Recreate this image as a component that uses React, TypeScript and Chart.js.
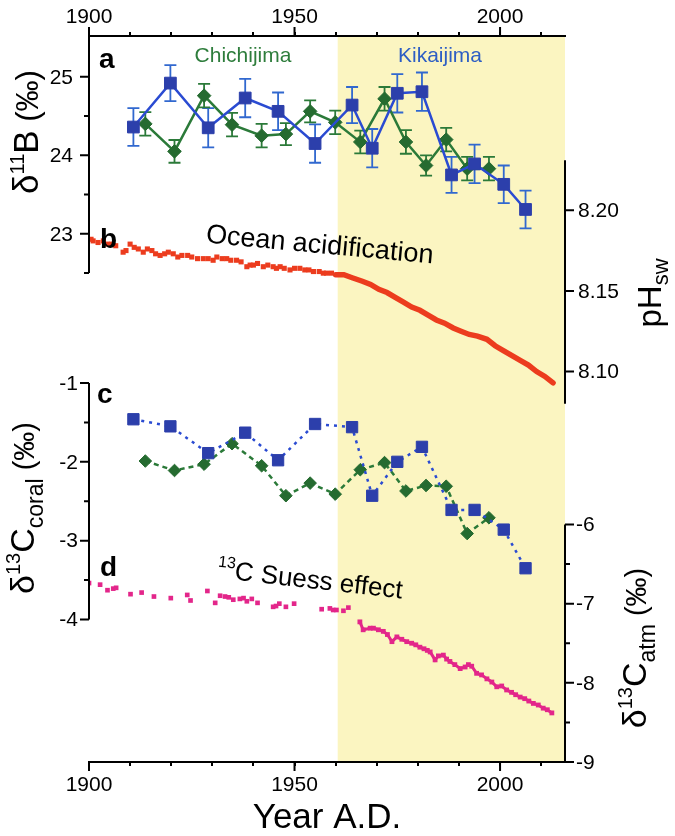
import React, { useEffect, useRef } from "react";
import { Chart, registerables } from "chart.js";

Chart.register(...registerables);

const FONT = "'Liberation Sans', Arial, sans-serif";

// ---------- x axis ----------
const yearMin = 1900;
const yearMax = 2015.8;
const shadeStartYear = 1960.5;
const decadeTicks = [1900, 1910, 1920, 1930, 1940, 1950, 1960, 1970, 1980, 1990, 2000, 2010];
const labelledYears = [1900, 1950, 2000];

// ---------- Kikaijima (blue squares) ----------
const kikaiYears = [1910.8, 1919.8, 1929.0, 1938.0, 1946.0, 1955.0, 1964.0, 1968.9, 1975.0, 1981.0, 1988.2, 1993.8, 2000.9, 2006.2];
const kikaiD11B = [24.36, 24.92, 24.35, 24.73, 24.56, 24.15, 24.64, 24.09, 24.79, 24.81, 23.75, 23.89, 23.63, 23.31];
const kikaiD11BErr = [0.24, 0.23, 0.25, 0.245, 0.24, 0.245, 0.23, 0.245, 0.245, 0.245, 0.23, 0.245, 0.24, 0.24];
const kikaiD13C = [-1.46, -1.55, -1.89, -1.63, -1.98, -1.52, -1.56, -2.43, -2.0, -1.81, -2.61, -2.61, -2.86, -3.35];

// ---------- Chichijima (green diamonds) ----------
const chichiYears = [1913.7, 1920.8, 1928.0, 1934.8, 1942.0, 1947.9, 1953.8, 1959.9, 1966.0, 1971.9, 1977.1, 1982.0, 1986.9, 1992.0, 1997.3];
const chichiD11B = [24.4, 24.05, 24.76, 24.39, 24.25, 24.27, 24.56, 24.42, 24.17, 24.72, 24.17, 23.87, 24.2, 23.83, 23.83];
const chichiD11BErr = [0.15, 0.145, 0.15, 0.15, 0.15, 0.14, 0.14, 0.15, 0.145, 0.15, 0.15, 0.13, 0.15, 0.15, 0.15];
const chichiD13C = [-1.99, -2.11, -2.03, -1.77, -2.05, -2.43, -2.27, -2.41, -2.1, -2.01, -2.37, -2.3, -2.31, -2.91, -2.71];

// ---------- Ocean acidification (pH sw) ----------
const phEarlyYears = [1900.5, 1901.0, 1902.2, 1903.5, 1904.4, 1905.5, 1906.5, 1908.3, 1909.0, 1910.0, 1911.0, 1912.0, 1913.2, 1914.2, 1915.3, 1916.2, 1917.3, 1918.4, 1919.3, 1920.5, 1921.6, 1922.6, 1924.0, 1925.0, 1926.4, 1927.8, 1929.0, 1930.2, 1931.1, 1932.4, 1933.5, 1934.5, 1935.9, 1937.0, 1938.4, 1939.2, 1940.0, 1941.0, 1942.4, 1943.5, 1944.8, 1945.6, 1946.5, 1947.5, 1948.9, 1950.0, 1951.3, 1952.5, 1953.5, 1954.6, 1956.0, 1957.0, 1957.8, 1959.0];
const phEarly = [8.182, 8.181, 8.180, 8.181, 8.179, 8.179, 8.178, 8.174, 8.175, 8.179, 8.177, 8.176, 8.174, 8.176, 8.175, 8.173, 8.172, 8.173, 8.174, 8.173, 8.171, 8.172, 8.172, 8.171, 8.170, 8.17, 8.17, 8.169, 8.171, 8.170, 8.17, 8.169, 8.169, 8.168, 8.165, 8.166, 8.166, 8.167, 8.165, 8.166, 8.165, 8.164, 8.165, 8.164, 8.163, 8.164, 8.164, 8.163, 8.163, 8.162, 8.162, 8.161, 8.161, 8.161];
const phLateYears = [1960.0, 1962.0, 1964.2, 1966.5, 1968.5, 1970.5, 1972.5, 1974.5, 1976.5, 1978.5, 1980.5, 1982.5, 1984.5, 1986.5, 1988.6, 1990.5, 1992.5, 1994.5, 1996.8, 1998.8, 2000.8, 2002.8, 2004.9, 2006.9, 2008.9, 2010.9, 2012.9];
const phLate = [8.16, 8.16, 8.158, 8.156, 8.154, 8.151, 8.149, 8.146, 8.143, 8.14, 8.138, 8.135, 8.132, 8.13, 8.127, 8.125, 8.123, 8.122, 8.12, 8.116, 8.113, 8.11, 8.107, 8.104, 8.1, 8.097, 8.093];

// ---------- 13C Suess effect (atmospheric d13C) ----------
const atmEarlyYears = [1900.0, 1902.7, 1904.5, 1905.9, 1906.6, 1910.1, 1912.8, 1915.8, 1919.9, 1923.9, 1924.7, 1928.8, 1930.7, 1931.9, 1933.1, 1934.0, 1935.1, 1936.7, 1937.6, 1938.4, 1939.6, 1941.0, 1944.8, 1945.5, 1946.3, 1947.9, 1949.9, 1956.6, 1958.6, 1959.4, 1960.2, 1961.9, 1963.1];
const atmEarly = [-6.74, -6.76, -6.83, -6.81, -6.8, -6.88, -6.86, -6.91, -6.93, -6.89, -6.96, -6.84, -6.99, -6.9, -6.91, -6.92, -6.95, -6.94, -6.93, -6.97, -6.94, -6.99, -7.04, -7.03, -7.0, -7.04, -7.0, -7.07, -7.06, -7.08, -7.08, -7.09, -7.05];
const atmLateYears = [1965.9, 1966.7, 1968.4, 1969.2, 1970.4, 1971.6, 1972.6, 1973.7, 1974.9, 1976.1, 1977.3, 1978.5, 1979.5, 1980.5, 1981.5, 1982.3, 1983.0, 1984.2, 1985.0, 1986.2, 1987.0, 1987.8, 1989.0, 1990.3, 1991.5, 1992.3, 1993.1, 1994.3, 1995.5, 1996.8, 1998.0, 1999.2, 2000.4, 2001.6, 2002.8, 2003.8, 2004.9, 2006.0, 2007.0, 2008.1, 2009.3, 2010.5, 2011.5, 2012.6];
const atmLate = [-7.23, -7.33, -7.31, -7.31, -7.33, -7.35, -7.39, -7.48, -7.42, -7.45, -7.48, -7.5, -7.52, -7.55, -7.57, -7.59, -7.61, -7.71, -7.66, -7.65, -7.7, -7.73, -7.77, -7.82, -7.8, -7.77, -7.79, -7.88, -7.9, -7.95, -7.99, -8.05, -8.04, -8.09, -8.12, -8.15, -8.18, -8.2, -8.23, -8.26, -8.28, -8.32, -8.34, -8.38];

// ---------- y axes: ranges, ticks, labels ----------
const d11bScaleRange = [16.27, 25.52];
const d11bAxisSpan = [22.5, 25.52];
const d11bMajor = [23, 24, 25];
const d11bMinor = [22.5, 23.5, 24.5];
const d11bLabels = ["23", "24", "25"];

const phScaleRange = [7.858, 8.308];
const phAxisSpan = [8.08, 8.231];
const phMajor = [8.1, 8.15, 8.2];
const phLabels = ["8.10", "8.15", "8.20"];

const coralScaleRange = [-5.808, 3.402];
const coralAxisSpan = [-4, -1];
const coralMajor = [-1, -2, -3, -4];
const coralMinor = [-1.5, -2.5, -3.5];
const coralLabels = ["-1", "-2", "-3", "-4"];

const atmScaleRange = [-9, 0.17];
const atmAxisSpan = [-9, -6];
const atmMajor = [-6, -7, -8, -9];
const atmMinor = [-6.5, -7.5, -8.5];
const atmLabels = ["-6", "-7", "-8", "-9"];

const BLUE_LINE = "#2a4bd2";
const BLUE_MARK = "#2c3fab";
const BLUE_ERR = "#3168cf";
const GREEN_LINE = "#2b7a39";
const GREEN_MARK = "#256b30";
const RED = "#ec3c1e";
const MAGENTA = "#e3268a";
const SHADE = "#fbf5c1";

const pts = (xs: number[], ys: number[]) => xs.map((x, i) => ({ x, y: ys[i] }));

type Seg = { t: string; size: number; dy?: number; bold?: boolean };

function drawRich(ctx: CanvasRenderingContext2D, segs: Seg[], x: number, y: number, angle: number, color: string) {
  ctx.save();
  ctx.translate(x, y);
  ctx.rotate(angle);
  ctx.fillStyle = color;
  ctx.textBaseline = "alphabetic";
  ctx.textAlign = "left";
  const widths = segs.map((s) => {
    ctx.font = `${s.bold ? "bold " : ""}${s.size}px ${FONT}`;
    return ctx.measureText(s.t).width;
  });
  const total = widths.reduce((a, b) => a + b, 0);
  let cx = -total / 2;
  segs.forEach((s, i) => {
    ctx.font = `${s.bold ? "bold " : ""}${s.size}px ${FONT}`;
    ctx.fillText(s.t, cx, s.dy || 0);
    cx += widths[i];
  });
  ctx.restore();
}

function drawYAxis(
  ctx: CanvasRenderingContext2D,
  scale: any,
  x: number,
  dir: number,
  span: number[],
  majors: number[],
  minors: number[],
  labels: string[],
  labelGap: number
) {
  ctx.save();
  ctx.strokeStyle = "#000";
  ctx.lineWidth = 2;
  ctx.beginPath();
  ctx.moveTo(x, scale.getPixelForValue(span[0]));
  ctx.lineTo(x, scale.getPixelForValue(span[1]));
  ctx.stroke();
  ctx.beginPath();
  majors.forEach((v) => {
    const y = scale.getPixelForValue(v);
    ctx.moveTo(x, y);
    ctx.lineTo(x + dir * 9, y);
  });
  minors.forEach((v) => {
    const y = scale.getPixelForValue(v);
    ctx.moveTo(x, y);
    ctx.lineTo(x + dir * 5, y);
  });
  ctx.stroke();
  ctx.fillStyle = "#000";
  ctx.font = `21px ${FONT}`;
  ctx.textAlign = dir < 0 ? "right" : "left";
  ctx.textBaseline = "middle";
  majors.forEach((v, i) => {
    ctx.fillText(labels[i], x + dir * labelGap, scale.getPixelForValue(v) + 1);
  });
  ctx.restore();
}

const figurePlugin = {
  id: "figurePlugin",
  beforeDraw(chart: any) {
    const { ctx, chartArea: a, scales } = chart;
    const x0 = scales.x.getPixelForValue(shadeStartYear);
    ctx.save();
    ctx.fillStyle = SHADE;
    ctx.fillRect(x0, a.top, a.right - x0, a.bottom - a.top);
    ctx.restore();
  },
  beforeDatasetsDraw(chart: any) {
    const { ctx } = chart;
    chart.data.datasets.forEach((ds: any, i: number) => {
      if (!ds.errors) return;
      const meta = chart.getDatasetMeta(i);
      const xs = chart.scales[meta.xAxisID];
      const ys = chart.scales[meta.yAxisID];
      ctx.save();
      ctx.strokeStyle = ds.errorColor;
      ctx.lineWidth = 1.8;
      ctx.beginPath();
      ds.data.forEach((p: any, j: number) => {
        const x = xs.getPixelForValue(p.x);
        const yt = ys.getPixelForValue(p.y + ds.errors[j]);
        const yb = ys.getPixelForValue(p.y - ds.errors[j]);
        ctx.moveTo(x, yt);
        ctx.lineTo(x, yb);
        ctx.moveTo(x - 6, yt);
        ctx.lineTo(x + 6, yt);
        ctx.moveTo(x - 6, yb);
        ctx.lineTo(x + 6, yb);
      });
      ctx.stroke();
      ctx.restore();
    });
  },
  afterDraw(chart: any) {
    const { ctx, chartArea: a, scales } = chart;
    // longer major ticks on both year axes
    ctx.save();
    ctx.strokeStyle = "#000";
    ctx.lineWidth = 2;
    ctx.beginPath();
    labelledYears.forEach((v) => {
      const x = scales.x.getPixelForValue(v);
      ctx.moveTo(x, a.bottom);
      ctx.lineTo(x, a.bottom + 9);
      ctx.moveTo(x, a.top);
      ctx.lineTo(x, a.top - 9);
    });
    ctx.stroke();
    ctx.restore();

    drawYAxis(ctx, scales.yB, a.left, -1, d11bAxisSpan, d11bMajor, d11bMinor, d11bLabels, 16);
    drawYAxis(ctx, scales.yC, a.left, -1, coralAxisSpan, coralMajor, coralMinor, coralLabels, 11);
    drawYAxis(ctx, scales.yPH, a.right, 1, phAxisSpan, phMajor, [], phLabels, 13);
    drawYAxis(ctx, scales.yA, a.right, 1, atmAxisSpan, atmMajor, atmMinor, atmLabels, 11);

    const up = -Math.PI / 2;
    drawRich(ctx, [{ t: "δ", size: 35 }, { t: "11", size: 20, dy: -14 }, { t: "B", size: 35 }, { t: " (‰)", size: 31 }], 38, 132, up, "#000");
    drawRich(ctx, [{ t: "δ", size: 34 }, { t: "13", size: 20, dy: -14 }, { t: "C", size: 34 }, { t: "coral", size: 23, dy: 9 }, { t: " (‰)", size: 29 }], 34, 508, up, "#000");
    drawRich(ctx, [{ t: "pH", size: 33 }, { t: "sw", size: 22, dy: 7 }], 661, 293, up, "#000");
    drawRich(ctx, [{ t: "δ", size: 34 }, { t: "13", size: 20, dy: -14 }, { t: "C", size: 34 }, { t: "atm", size: 23, dy: 9 }, { t: " (‰)", size: 29 }], 646, 648, up, "#000");

    // panel letters
    ctx.save();
    ctx.fillStyle = "#000";
    ctx.font = `bold 28px ${FONT}`;
    ctx.textAlign = "left";
    ctx.textBaseline = "alphabetic";
    ctx.fillText("a", a.left + 10, 68);
    ctx.fillText("b", a.left + 11, 248);
    ctx.fillText("c", a.left + 8, 403);
    ctx.fillText("d", a.left + 11, 576);
    ctx.font = `21px ${FONT}`;
    ctx.textAlign = "center";
    ctx.fillStyle = "#2e7d3c";
    ctx.fillText("Chichijima", 243, 62);
    ctx.fillStyle = "#2d5ec4";
    ctx.fillText("Kikaijima", 440, 62);
    ctx.restore();

    drawRich(ctx, [{ t: "Ocean acidification", size: 27 }], 319, 253, 0.092, "#000");
    drawRich(ctx, [{ t: "13", size: 16, dy: -11 }, { t: "C Suess effect", size: 26 }], 309, 588, 0.113, "#000");
  },
};

const xAxis = (position: "top" | "bottom") => ({
  type: "linear",
  position,
  min: yearMin,
  max: yearMax,
  afterBuildTicks: (s: any) => {
    s.ticks = decadeTicks.map((v) => ({ value: v }));
  },
  afterFit: (s: any) => {
    s.height = position === "top" ? 36 : 74;
  },
  grid: { display: true, drawOnChartArea: false, drawTicks: true, tickLength: 4, color: "#000", lineWidth: 2 },
  border: { display: true, color: "#000", width: 2 },
  ticks: {
    color: "#000",
    font: { family: FONT, size: 21 },
    padding: position === "top" ? 2 : 7,
    maxRotation: 0,
    autoSkip: false,
    callback: (v: any) => (labelledYears.includes(Number(v)) ? String(v) : ""),
  },
  title:
    position === "bottom"
      ? { display: true, text: "Year A.D.", color: "#000", font: { family: FONT, size: 35, lineHeight: 1 }, padding: { top: 0, bottom: 0 } }
      : { display: false },
});

const hiddenY = (range: number[]) => ({ type: "linear", display: false, min: range[0], max: range[1] });

export default function App() {
  const ref = useRef<HTMLCanvasElement>(null);
  useEffect(() => {
    const canvas = ref.current;
    if (!canvas) return;
    const chart = new Chart(canvas, {
      type: "line",
      data: {
        datasets: [
          {
            data: pts(kikaiYears, kikaiD11B),
            yAxisID: "yB",
            borderColor: BLUE_LINE,
            borderWidth: 2.5,
            pointStyle: "rect",
            pointRadius: 8.3,
            pointBackgroundColor: BLUE_MARK,
            pointBorderColor: BLUE_MARK,
            pointBorderWidth: 1,
            errors: kikaiD11BErr,
            errorColor: BLUE_ERR,
          } as any,
          {
            data: pts(chichiYears, chichiD11B),
            yAxisID: "yB",
            borderColor: GREEN_LINE,
            borderWidth: 2.5,
            pointStyle: "rectRot",
            pointRadius: 6.8,
            pointBackgroundColor: GREEN_MARK,
            pointBorderColor: GREEN_MARK,
            pointBorderWidth: 1,
            errors: chichiD11BErr,
            errorColor: GREEN_LINE,
          } as any,
          {
            data: pts(kikaiYears, kikaiD13C),
            yAxisID: "yC",
            borderColor: BLUE_LINE,
            borderWidth: 2.5,
            borderDash: [3, 5],
            pointStyle: "rect",
            pointRadius: 8,
            pointBackgroundColor: BLUE_MARK,
            pointBorderColor: BLUE_MARK,
            pointBorderWidth: 1,
          },
          {
            data: pts(chichiYears, chichiD13C),
            yAxisID: "yC",
            borderColor: GREEN_LINE,
            borderWidth: 2.5,
            borderDash: [5, 4],
            pointStyle: "rectRot",
            pointRadius: 6.3,
            pointBackgroundColor: GREEN_MARK,
            pointBorderColor: GREEN_MARK,
            pointBorderWidth: 1,
          },
          {
            data: pts(phLateYears, phLate),
            yAxisID: "yPH",
            borderColor: RED,
            borderWidth: 5.5,
            borderCapStyle: "round",
            pointRadius: 0,
          },
          {
            data: pts(phEarlyYears, phEarly),
            yAxisID: "yPH",
            showLine: false,
            pointStyle: "rect",
            pointRadius: 3.6,
            pointBackgroundColor: RED,
            pointBorderColor: RED,
            pointBorderWidth: 0,
          },
          {
            data: pts(atmLateYears, atmLate),
            yAxisID: "yA",
            borderColor: MAGENTA,
            borderWidth: 3,
            pointStyle: "rect",
            pointRadius: 3.4,
            pointBackgroundColor: MAGENTA,
            pointBorderColor: MAGENTA,
            pointBorderWidth: 0,
          },
          {
            data: pts(atmEarlyYears, atmEarly),
            yAxisID: "yA",
            showLine: false,
            pointStyle: "rect",
            pointRadius: 3.3,
            pointBackgroundColor: MAGENTA,
            pointBorderColor: MAGENTA,
            pointBorderWidth: 0,
          },
        ],
      },
      options: {
        responsive: false,
        maintainAspectRatio: false,
        animation: false,
        devicePixelRatio: 1,
        layout: { padding: { left: 89, right: 110, top: 0, bottom: 0 } },
        plugins: { legend: { display: false }, tooltip: { enabled: false } },
        events: [],
        scales: {
          x: xAxis("bottom"),
          x2: xAxis("top"),
          yB: hiddenY(d11bScaleRange),
          yPH: hiddenY(phScaleRange),
          yC: hiddenY(coralScaleRange),
          yA: hiddenY(atmScaleRange),
        } as any,
      },
      plugins: [figurePlugin],
    } as any);
    return () => chart.destroy();
  }, []);
  return (
    <div style={{ position: "absolute", left: 0, top: 0, width: 675, height: 836, background: "#fff" }}>
      <canvas ref={ref} width={675} height={836} style={{ display: "block", width: 675, height: 836 }} />
    </div>
  );
}
